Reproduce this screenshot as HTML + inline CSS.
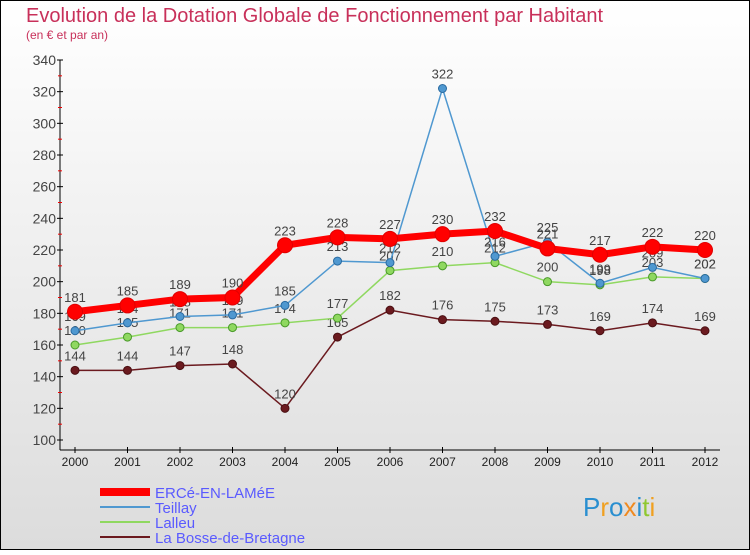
<!DOCTYPE html>
<html><head><meta charset="utf-8"><style>
body{margin:0;width:750px;height:550px;overflow:hidden;font-family:"Liberation Sans",sans-serif}
</style></head><body>
<svg width="750" height="550" xmlns="http://www.w3.org/2000/svg">
<defs><linearGradient id="bg" x1="0" y1="0" x2="0" y2="1"><stop offset="0" stop-color="#ffffff"/><stop offset="1" stop-color="#dcdcdc"/></linearGradient></defs>
<rect x="0.5" y="0.5" width="749" height="549" fill="url(#bg)" stroke="#000"/>
<text x="26" y="22" font-size="20" fill="#c8305a" font-weight="300">Evolution de la Dotation Globale de Fonctionnement par Habitant</text>
<text x="26" y="39" font-size="12" fill="#c8305a">(en € et par an)</text>
<g id="axes"></g><g id="series"></g><g id="legend"></g>
<text x="583" y="516" font-size="26" fill="#2a8fd0"><tspan fill="#2a8fd0">P</tspan><tspan fill="#f0a020">r</tspan><tspan fill="#2a8fd0">o</tspan><tspan fill="#f08a20">x</tspan><tspan fill="#2a8fd0">i</tspan><tspan fill="#8fc830">t</tspan><tspan fill="#f0a020">i</tspan></text>
</svg>
<script>
const years=[2000,2001,2002,2003,2004,2005,2006,2007,2008,2009,2010,2011,2012];
const yTicks=[100,120,140,160,180,200,220,240,260,280,300,320,340];
const ercee=[181,185,189,190,223,228,227,230,232,221,217,222,220];
const teillay=[169,174,178,179,185,213,212,322,216,225,199,209,202];
const lalleu=[160,165,171,171,174,177,207,210,212,200,198,203,202];
const bosse=[144,144,147,148,120,165,182,176,175,173,169,174,169];
const NS="http://www.w3.org/2000/svg";
const xs=i=>75+i*52.5, ys=v=>440-(v-100)*380/240;
function mk(t,a,p){const e=document.createElementNS(NS,t);for(const k in a)e.setAttribute(k,a[k]);p.appendChild(e);return e;}
const ax=document.getElementById('axes');
let l=mk('line',{x1:60,y1:60,x2:60,y2:450,stroke:'#000'},ax);

l=mk('line',{x1:60,y1:450,x2:720,y2:450,stroke:'#000'},ax);

yTicks.forEach((v,i)=>{const y=ys(v);
 mk('line',{x1:57,y1:y,x2:63,y2:y,stroke:'#000'},ax);
 if(i<yTicks.length-1)mk('line',{x1:58,y1:ys(v+10),x2:62,y2:ys(v+10),stroke:'#e00'},ax);
 const t=mk('text',{x:56,y:y+5,'font-size':14,fill:'#444','text-anchor':'end'},ax);t.textContent=v;
 });
years.forEach((yr,i)=>{const x=xs(i);
 mk('line',{x1:x,y1:447,x2:x,y2:453,stroke:'#000'},ax);
 const t=mk('text',{x:x,y:466,'font-size':12,fill:'#222','text-anchor':'middle'},ax);t.textContent=yr;
 });
const sg=document.getElementById('series');
function draw(vals,color,w,r,name,dark){
 const g=mk('g',{},sg);
 mk('polyline',{points:vals.map((v,i)=>xs(i)+','+ys(v)).join(' '),fill:'none',stroke:color,'stroke-width':w},g);
 vals.forEach((v,i)=>{const c=mk('circle',{cx:xs(i),cy:ys(v),r:r,fill:color,stroke:dark,'stroke-width':1},g);
  
  const t=mk('text',{x:xs(i),y:ys(v)-10,'font-size':13,fill:'#444','text-anchor':'middle'},g);t.textContent=v;});
}
draw(bosse,'#6b1a1f',1.5,4,'series-la-bosse','#4a0f12');
draw(lalleu,'#8fd860',1.5,4,'series-lalleu','#4a9a2a');
draw(teillay,'#4f98d0',1.5,4,'series-teillay','#2a6aa0');
draw(ercee,'#ff0000',7,7.5,'series-ercee','#e00000');
const lg=document.getElementById('legend');
const items=[['ERCé-EN-LAMéE','#ff0000',8],['Teillay','#4f98d0',2],['Lalleu','#8fd860',2],['La Bosse-de-Bretagne','#6b1a1f',2]];
items.forEach((it,i)=>{const y=492+i*15;
 const g=mk('g',{},lg);
 mk('line',{x1:100,y1:y,x2:150,y2:y,stroke:it[1],'stroke-width':it[2]},g);
 const t=mk('text',{x:155,y:y+6,'font-size':15,fill:'#5a5aff'},g);t.textContent=it[0];});
</script>
</body></html>
